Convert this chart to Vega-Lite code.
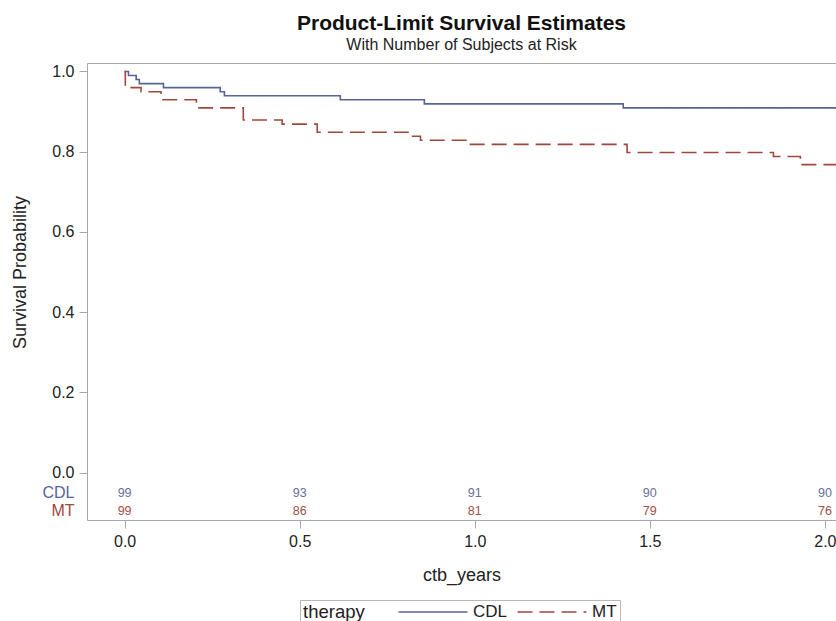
{
  "$schema": "https://vega.github.io/schema/vega-lite/v6.json",
  "width": 749,
  "height": 457,
  "autosize": {"type": "none"},
  "padding": {"left": 87, "top": 63, "right": 0, "bottom": 101},
  "background": "white",
  "config": {
    "view": {"stroke": null},
    "font": "Liberation Sans",
    "axis": {
      "grid": false,
      "domainColor": "#a8a8a8",
      "tickColor": "#a8a8a8",
      "labelColor": "#222222",
      "titleColor": "#222222",
      "labelFont": "Liberation Sans",
      "titleFont": "Liberation Sans",
      "titleFontWeight": "normal",
      "labelFontSize": 16,
      "titleFontSize": 18,
      "tickSize": 8,
      "labelPadding": 5
    },
    "legend": {
      "labelFont": "Liberation Sans",
      "titleFont": "Liberation Sans",
      "labelFontSize": 17,
      "titleFontSize": 18.5,
      "titleFontWeight": "normal",
      "labelColor": "#222222",
      "titleColor": "#222222"
    }
  },
  "title": {
    "text": "Product-Limit Survival Estimates",
    "subtitle": "With Number of Subjects at Risk",
    "anchor": "middle",
    "font": "Liberation Sans",
    "subtitleFont": "Liberation Sans",
    "fontSize": 21,
    "fontWeight": "bold",
    "subtitleFontSize": 16,
    "color": "#111111",
    "subtitleColor": "#222222",
    "offset": 10,
    "subtitlePadding": 3
  },
  "datasets": {
    "surv": [
      {"therapy": "CDL", "time": 0, "survival": 1.0},
      {"therapy": "CDL", "time": 0.011, "survival": 0.9899},
      {"therapy": "CDL", "time": 0.033, "survival": 0.9798},
      {"therapy": "CDL", "time": 0.042, "survival": 0.9697},
      {"therapy": "CDL", "time": 0.111, "survival": 0.9596},
      {"therapy": "CDL", "time": 0.273, "survival": 0.9495},
      {"therapy": "CDL", "time": 0.285, "survival": 0.9394},
      {"therapy": "CDL", "time": 0.616, "survival": 0.9293},
      {"therapy": "CDL", "time": 0.856, "survival": 0.9192},
      {"therapy": "CDL", "time": 1.424, "survival": 0.9091},
      {"therapy": "CDL", "time": 2.04, "survival": 0.9091},
      {"therapy": "MT", "time": 0, "survival": 1.0},
      {"therapy": "MT", "time": 0.002, "survival": 0.9596},
      {"therapy": "MT", "time": 0.047, "survival": 0.9495},
      {"therapy": "MT", "time": 0.104, "survival": 0.9293},
      {"therapy": "MT", "time": 0.205, "survival": 0.9091},
      {"therapy": "MT", "time": 0.339, "survival": 0.8788},
      {"therapy": "MT", "time": 0.45, "survival": 0.8687},
      {"therapy": "MT", "time": 0.55, "survival": 0.8485},
      {"therapy": "MT", "time": 0.82, "survival": 0.8384},
      {"therapy": "MT", "time": 0.845, "survival": 0.8283},
      {"therapy": "MT", "time": 0.982, "survival": 0.8182},
      {"therapy": "MT", "time": 1.435, "survival": 0.798},
      {"therapy": "MT", "time": 1.853, "survival": 0.7879},
      {"therapy": "MT", "time": 1.93, "survival": 0.7677},
      {"therapy": "MT", "time": 2.04, "survival": 0.7677}
    ],
    "risk": [
      {"therapy": "CDL", "time": 0, "atrisk": 99},
      {"therapy": "CDL", "time": 0.5, "atrisk": 93},
      {"therapy": "CDL", "time": 1.0, "atrisk": 91},
      {"therapy": "CDL", "time": 1.5, "atrisk": 90},
      {"therapy": "CDL", "time": 2.0, "atrisk": 90},
      {"therapy": "MT", "time": 0, "atrisk": 99},
      {"therapy": "MT", "time": 0.5, "atrisk": 86},
      {"therapy": "MT", "time": 1.0, "atrisk": 81},
      {"therapy": "MT", "time": 1.5, "atrisk": 79},
      {"therapy": "MT", "time": 2.0, "atrisk": 76}
    ]
  },
  "layer": [
    {
      "data": {"name": "surv"},
      "mark": {"type": "line", "interpolate": "step-after", "strokeWidth": 1.6, "clip": true},
      "encoding": {
        "x": {
          "field": "time",
          "type": "quantitative",
          "scale": {"domain": [-0.1074, 2.0317], "nice": false, "zero": false},
          "axis": {
            "orient": "bottom",
            "values": [0, 0.5, 1, 1.5, 2],
            "format": ".1f",
            "title": "ctb_years",
            "titlePadding": 17
          }
        },
        "y": {
          "field": "survival",
          "type": "quantitative",
          "scale": {"domain": [-0.118, 1.021], "nice": false, "zero": false},
          "axis": {
            "values": [0, 0.2, 0.4, 0.6, 0.8, 1.0, -0.05, -0.095],
            "labelExpr": "datum.value < -0.07 ? 'MT' : (datum.value < 0 ? 'CDL' : format(datum.value, '.1f'))",
            "labelColor": {
              "condition": [
                {"test": "datum.value < -0.07", "value": "#a0473d"},
                {"test": "datum.value < 0", "value": "#56649a"}
              ],
              "value": "#222222"
            },
            "tickOpacity": {"condition": {"test": "datum.value < 0", "value": 0}, "value": 1},
            "title": "Survival Probability",
            "titlePadding": 12,
            "titleY": 209
          }
        },
        "color": {
          "field": "therapy",
          "type": "nominal",
          "scale": {"domain": ["CDL", "MT"], "range": ["#56649a", "#a0473d"]},
          "legend": {
            "title": "therapy",
            "orient": "none",
            "legendX": 213,
            "legendY": 537,
            "direction": "horizontal",
            "titleOrient": "left",
            "strokeColor": "#b8b8b8",
            "padding": 3,
            "symbolType": "M-4.31,0H4.31",
            "symbolSize": 256,
            "symbolStrokeWidth": 1.6,
            "columnPadding": 6,
            "labelOffset": 31,
            "titlePadding": 59
          }
        },
        "strokeDash": {
          "field": "therapy",
          "type": "nominal",
          "scale": {"domain": ["CDL", "MT"], "range": [[1, 0], [15, 7]]},
          "legend": {
            "title": "therapy",
            "orient": "none",
            "legendX": 213,
            "legendY": 537,
            "direction": "horizontal",
            "titleOrient": "left",
            "strokeColor": "#b8b8b8",
            "padding": 3,
            "symbolType": "M-4.31,0H4.31",
            "symbolSize": 256,
            "symbolStrokeWidth": 1.6,
            "columnPadding": 6,
            "labelOffset": 31,
            "titlePadding": 59
          }
        }
      }
    },
    {
      "data": {"name": "risk"},
      "transform": [{"filter": "datum.therapy == 'CDL'"}],
      "mark": {"type": "text", "fontSize": 12.5, "color": "#6670a0", "font": "Liberation Sans"},
      "encoding": {
        "x": {
          "field": "time",
          "type": "quantitative",
          "axis": {"orient": "top", "labels": false, "ticks": false, "title": null, "domain": true, "grid": false}
        },
        "y": {"datum": -0.05},
        "text": {"field": "atrisk", "type": "quantitative"}
      }
    },
    {
      "data": {"name": "risk"},
      "transform": [{"filter": "datum.therapy == 'MT'"}],
      "mark": {"type": "text", "fontSize": 12.5, "color": "#a0504a", "font": "Liberation Sans"},
      "encoding": {
        "x": {"field": "time", "type": "quantitative", "axis": null},
        "y": {"datum": -0.095},
        "text": {"field": "atrisk", "type": "quantitative"}
      }
    }
  ],
  "resolve": {"axis": {"x": "independent"}}
}
